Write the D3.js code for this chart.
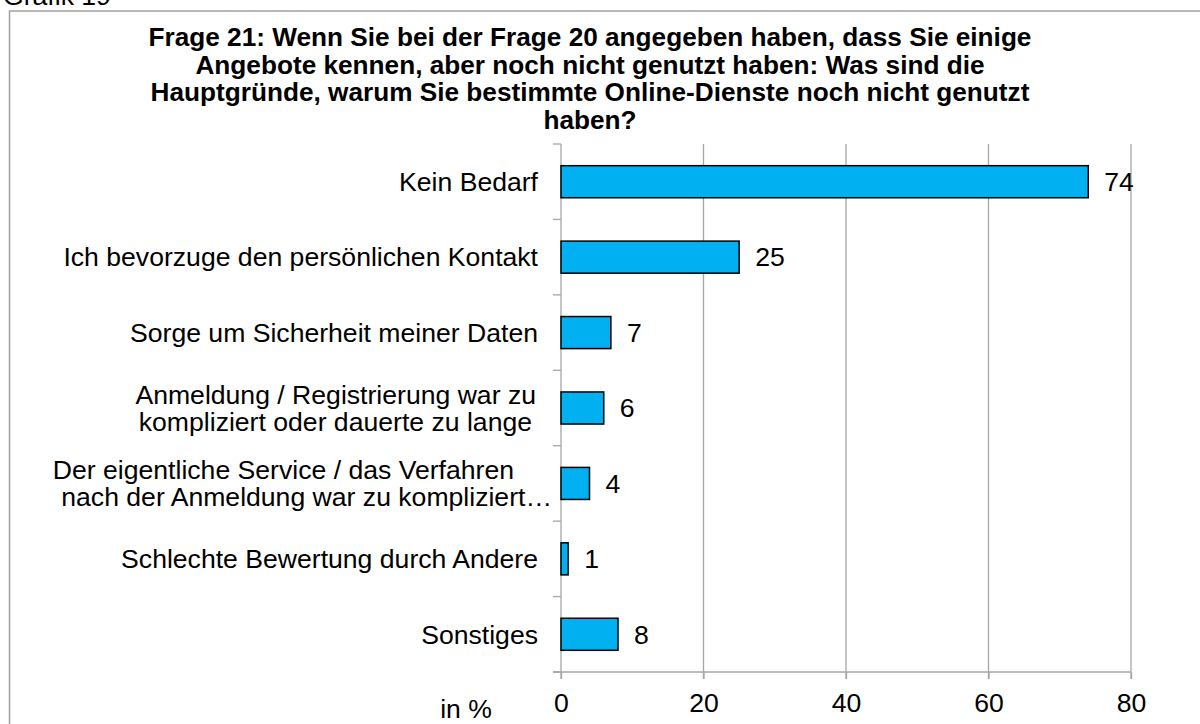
<!DOCTYPE html>
<html>
<head>
<meta charset="utf-8">
<script src="https://cdn.jsdelivr.net/npm/d3@7"></script>
<style>
  body { margin: 0; background: #fff; }
  svg { font-family: "Liberation Sans", Arial, sans-serif; }
</style>
</head>
<body>
<div id="chart"></div>
<script>
// Daten
const categories = [
    'Kein Bedarf',
    'Ich bevorzuge den persönlichen Kontakt',
    'Sorge um Sicherheit meiner Daten',
    'Anmeldung / Registrierung war zu|kompliziert oder dauerte zu lange',
    'Der eigentliche Service / das Verfahren|nach der Anmeldung war zu kompliziert…',
    'Schlechte Bewertung durch Andere',
    'Sonstiges'
];
const values = [74, 25, 7, 6, 4, 1, 8];
const xTicks = [0, 20, 40, 60, 80];
const titleLines = [
    'Frage 21: Wenn Sie bei der Frage 20 angegeben haben, dass Sie einige',
    'Angebote kennen, aber noch nicht genutzt haben: Was sind die',
    'Hauptgründe, warum Sie bestimmte Online-Dienste noch nicht genutzt',
    'haben?'
];

const width = 1200;
const height = 724;
const margin = { top: 144, right: 69, bottom: 52, left: 561 };
const fs = 26.6;

const svg = d3.select("#chart")
    .append("svg")
    .attr("width", width)
    .attr("height", height);

// Rahmen
svg.append("rect")
    .attr("x", 9.5).attr("y", 11)
    .attr("width", 1300).attr("height", 800)
    .attr("fill", "none")
    .attr("stroke", "#a0a0a0")
    .attr("stroke-width", 1.5);

svg.append("text")
    .attr("x", 3).attr("y", 5)
    .attr("font-size", fs)
    .text("Grafik 19");

// Titel
svg.append("g").selectAll("text")
    .data(titleLines)
    .enter().append("text")
    .attr("x", 590)
    .attr("y", (d, i) => 46 + i * 27.7)
    .attr("text-anchor", "middle")
    .attr("font-size", 26.2)
    .attr("font-weight", "bold")
    .text(d => d);

const x = d3.scaleLinear()
    .domain([0, 80])
    .range([margin.left, width - margin.right]);

const y = d3.scaleBand()
    .domain(categories)
    .range([margin.top, height - margin.bottom])
    .paddingInner(0.575)
    .paddingOuter(0.2875);

const plotBottom = height - margin.bottom;

// Gitterlinien
svg.append("g")
    .selectAll("line")
    .data(xTicks.slice(1))
    .enter().append("line")
    .attr("x1", d => x(d)).attr("x2", d => x(d))
    .attr("y1", margin.top).attr("y2", plotBottom + 7)
    .attr("stroke", "#a6a6a6")
    .attr("stroke-width", 1.3);

// x-Achse
const xAxis = svg.append("g")
    .attr("transform", `translate(0,${plotBottom})`)
    .call(d3.axisBottom(x).tickValues(xTicks).tickSize(7).tickPadding(14));
xAxis.select(".domain").attr("stroke", "#a6a6a6").attr("stroke-width", 1.3)
    .attr("d", `M${x(0) - 8},0H${x(80)}`);
xAxis.selectAll(".tick line").attr("stroke", "#a6a6a6").attr("stroke-width", 1.3);
xAxis.selectAll(".tick text")
    .attr("font-size", fs)
    .attr("font-family", "Liberation Sans, Arial, sans-serif")
    .attr("fill", "#000");

// y-Achse
const step = y.step();
const bounds = d3.range(categories.length + 1).map(i => margin.top + i * step);
svg.append("line")
    .attr("x1", x(0)).attr("x2", x(0))
    .attr("y1", margin.top).attr("y2", plotBottom + 7)
    .attr("stroke", "#a6a6a6").attr("stroke-width", 1.3);
svg.append("g").selectAll("line")
    .data(bounds)
    .enter().append("line")
    .attr("x1", x(0) - 8).attr("x2", x(0))
    .attr("y1", d => d).attr("y2", d => d)
    .attr("stroke", "#a6a6a6").attr("stroke-width", 1.3);

// Balken
svg.selectAll(".bar")
    .data(categories)
    .enter().append("rect")
    .attr("class", "bar")
    .attr("x", x(0))
    .attr("y", d => y(d))
    .attr("width", (d, i) => x(values[i]) - x(0))
    .attr("height", y.bandwidth())
    .attr("fill", "#00B0F0")
    .attr("stroke", "#000")
    .attr("stroke-width", 1.5);

// Werte
svg.selectAll(".val")
    .data(categories)
    .enter().append("text")
    .attr("class", "val")
    .attr("x", (d, i) => x(values[i]) + 16)
    .attr("y", d => y(d) + y.bandwidth() / 2)
    .attr("dy", "0.35em")
    .attr("font-size", fs)
    .text((d, i) => values[i]);

// Kategorien (mehrzeilig)
const lineShift = { 'Anmeldung / Registrierung war zu': -2, 'kompliziert oder dauerte zu lange': -6, 'Der eigentliche Service / das Verfahren': -24, 'nach der Anmeldung war zu kompliziert…': 14 };
categories.forEach(c => {
    const lines = c.split('|');
    const cy = y(c) + y.bandwidth() / 2;
    lines.forEach((t, j) => {
        svg.append("text")
            .attr("x", 538 + (lineShift[t] || 0))
            .attr("y", cy + (j - (lines.length - 1) / 2) * 27)
            .attr("dy", "0.35em")
            .attr("text-anchor", "end")
            .attr("font-size", fs)
            .text(t);
    });
});

svg.append("text")
    .attr("x", 466).attr("y", 709)
    .attr("dy", "0.35em")
    .attr("text-anchor", "middle")
    .attr("font-size", fs)
    .text("in %");
</script>
</body>
</html>
